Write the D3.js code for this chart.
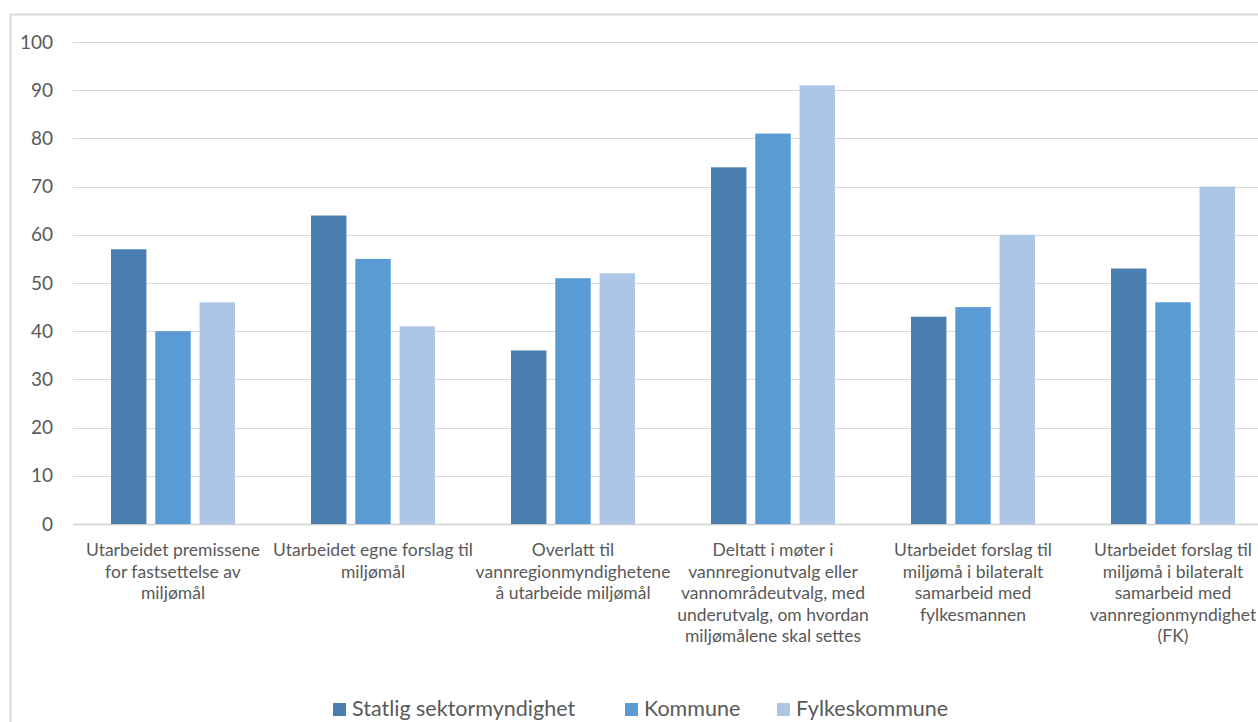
<!DOCTYPE html>
<html>
<head>
<meta charset="utf-8">
<script src="https://cdn.jsdelivr.net/npm/d3@7"></script>
<style>
  html, body { margin: 0; padding: 0; background: #fff; }
  svg { display: block; }
  text { font-family: Lato, "Open Sans", sans-serif; fill: #595959; }
</style>
</head>
<body>
<svg id="chart" width="1258" height="722"></svg>
<script>
// Category labels, pre-broken into lines as they appear under each group
const categories = [
  ["Utarbeidet premissene", "for fastsettelse av", "miljømål"],
  ["Utarbeidet egne forslag til", "miljømål"],
  ["Overlatt til", "vannregionmyndighetene", "å utarbeide miljømål"],
  ["Deltatt i møter i", "vannregionutvalg eller", "vannområdeutvalg, med", "underutvalg, om hvordan", "miljømålene skal settes"],
  ["Utarbeidet forslag til", "miljømå i bilateralt", "samarbeid med", "fylkesmannen"],
  ["Utarbeidet forslag til", "miljømå i bilateralt", "samarbeid med", "vannregionmyndighet", "(FK)"]
];
const seriesNames = ["Statlig sektormyndighet", "Kommune", "Fylkeskommune"];
const statlig = [57, 64, 36, 74, 43, 53];
const kommune = [40, 55, 51, 81, 45, 46];
const fylkeskommune = [46, 41, 52, 91, 60, 70];
const yTicks = [0, 10, 20, 30, 40, 50, 60, 70, 80, 90, 100];
const colors = ["#4a7eb0", "#5b9bd5", "#adc6e6"];

const series = [statlig, kommune, fylkeskommune];
const svg = d3.select("#chart");

// Outer chart frame (extends past the right/bottom of the view)
svg.append("rect")
  .attr("x", 10.5).attr("y", 14.5)
  .attr("width", 1300).attr("height", 800)
  .attr("fill", "none").attr("stroke", "#d9d9d9").attr("stroke-width", 2);

const plotLeft = 73, plotTop = 42, plotBottom = 524;
const x0 = d3.scaleBand()
  .domain(d3.range(categories.length))
  .range([plotLeft, plotLeft + 200 * categories.length])
  .paddingInner(0).paddingOuter(0);
const x1 = d3.scaleBand()
  .domain(d3.range(series.length))
  .range([38, 38 + 124])
  .paddingInner(0.2).paddingOuter(0);
const y = d3.scaleLinear().domain([0, 100]).range([plotBottom, plotTop]);

// Gridlines
svg.append("g")
  .selectAll("line")
  .data(yTicks)
  .join("line")
  .attr("x1", plotLeft).attr("x2", 1258)
  .attr("y1", d => Math.round(y(d)) + 0.5).attr("y2", d => Math.round(y(d)) + 0.5)
  .attr("stroke", d => d === 0 ? "#d0d0d0" : "#d9d9d9")
  .attr("stroke-width", d => d === 0 ? 1.5 : 1);

// Y axis labels
const yAxis = d3.axisLeft(y).tickValues(yTicks).tickSize(0).tickPadding(0);
const yg = svg.append("g").attr("transform", "translate(53,0)").call(yAxis);
yg.select(".domain").remove();
yg.selectAll("text")
  .attr("font-family", "Lato, 'Open Sans', sans-serif")
  .attr("font-size", 19)
  .attr("fill", "#595959");

// Bars
const groups = svg.append("g")
  .selectAll("g")
  .data(categories.map((c, i) => i))
  .join("g")
  .attr("transform", i => `translate(${x0(i)},0)`);

groups.selectAll("rect")
  .data(i => series.map((s, k) => ({ k, v: s[i] })))
  .join("rect")
  .attr("x", d => x1(d.k))
  .attr("width", x1.bandwidth())
  .attr("y", d => y(d.v))
  .attr("height", d => y(0) - y(d.v))
  .attr("fill", d => colors[d.k]);

// Category labels
groups.append("text")
  .attr("text-anchor", "middle")
  .attr("font-size", 17.5)
  .selectAll("tspan")
  .data(i => categories[i])
  .join("tspan")
  .attr("x", 100)
  .attr("y", (d, j) => 556 + j * 21.5)
  .text(d => d);

// Legend
const legendItems = [
  { name: seriesNames[0], x: 333, c: colors[0] },
  { name: seriesNames[1], x: 625, c: colors[1] },
  { name: seriesNames[2], x: 777, c: colors[2] }
];
const lg = svg.append("g");
lg.selectAll("rect")
  .data(legendItems)
  .join("rect")
  .attr("x", d => d.x).attr("y", 703)
  .attr("width", 13).attr("height", 13)
  .attr("fill", d => d.c);
lg.selectAll("text")
  .data(legendItems)
  .join("text")
  .attr("x", d => d.x + 19).attr("y", 716)
  .attr("font-size", 21.5)
  .text(d => d.name);
</script>
</body>
</html>
